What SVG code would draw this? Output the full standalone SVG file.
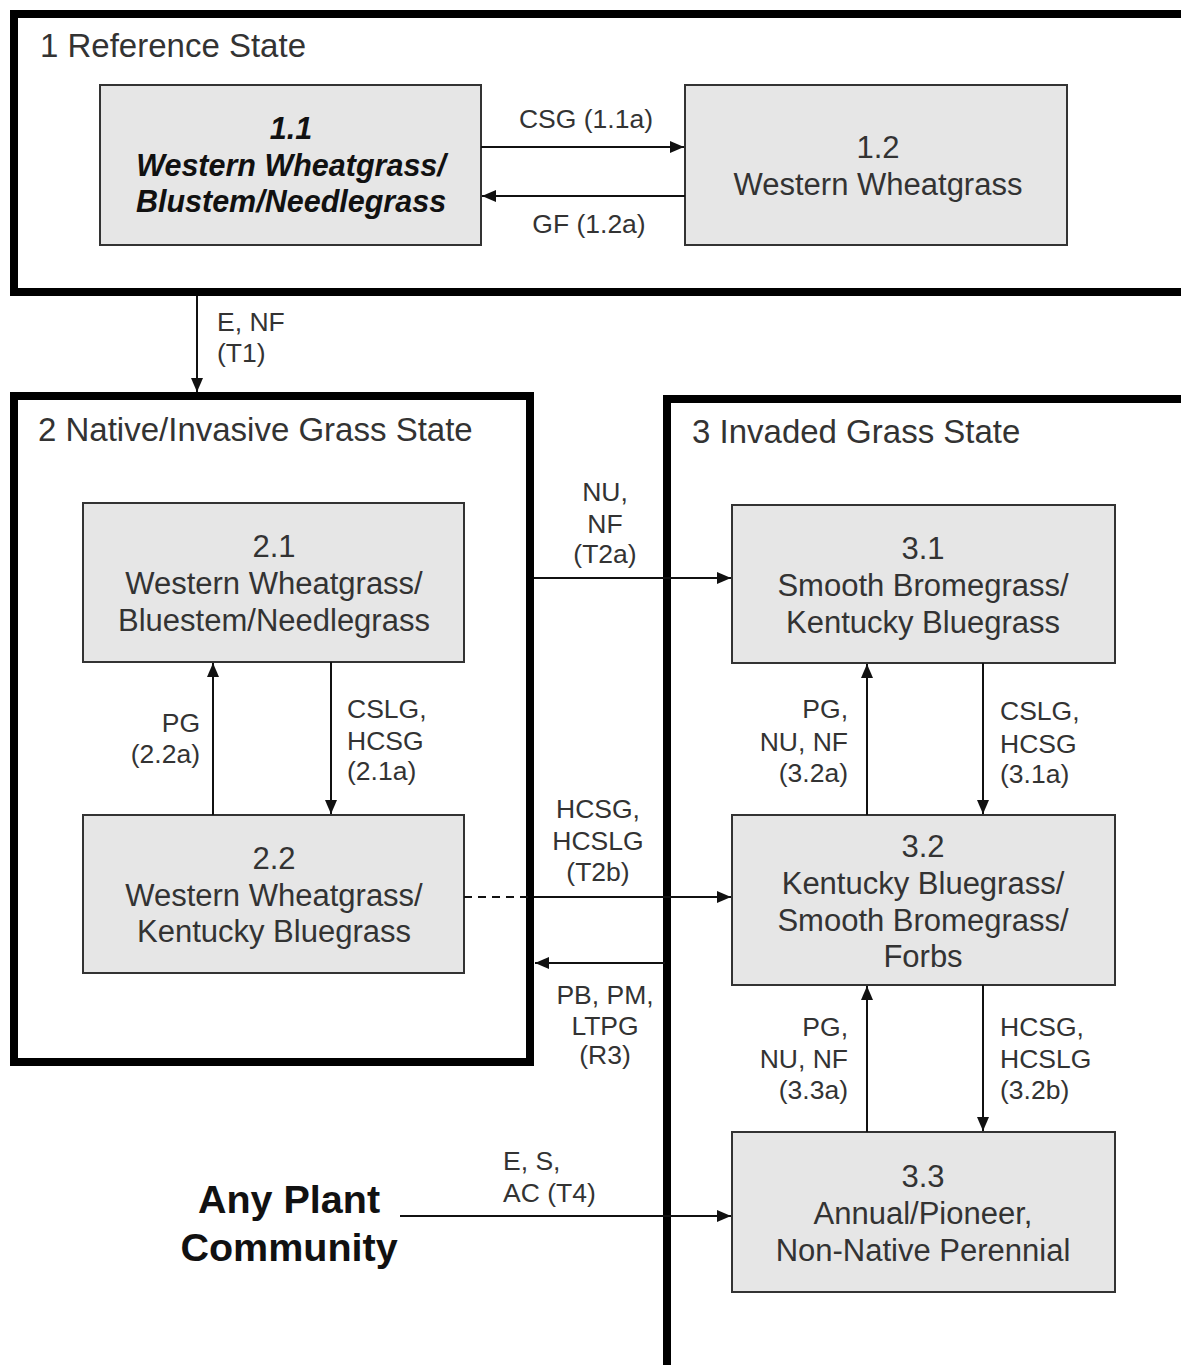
<svg xmlns="http://www.w3.org/2000/svg" width="1181" height="1365" viewBox="0 0 1181 1365">
<style>
.state{fill:none;stroke:#000;stroke-width:8}
.node{fill:#e6e6e6;stroke:#333;stroke-width:2}
.st{font-family:"Liberation Sans",Arial,sans-serif;font-size:33px;fill:#333}
.nt{font-family:"Liberation Sans",Arial,sans-serif;font-size:31px;fill:#333;text-anchor:middle}
.nb{font-family:"Liberation Sans",Arial,sans-serif;font-size:30.5px;fill:#111;text-anchor:middle;font-weight:bold;font-style:italic}
.lb{font-family:"Liberation Sans",Arial,sans-serif;font-size:26.5px;fill:#333}
.big{font-family:"Liberation Sans",Arial,sans-serif;font-size:39.5px;fill:#111;font-weight:bold;text-anchor:middle}
.c{fill:none;stroke:#111;stroke-width:2}
</style>
<defs>
<marker id="ah" markerWidth="14" markerHeight="12" refX="14" refY="6" orient="auto" markerUnits="userSpaceOnUse">
<path d="M0,0 L14,6 L0,12 Z" fill="#111"/>
</marker>
</defs>
<rect width="1181" height="1365" fill="#fff"/>

<g id="state1">
<rect class="state" x="14" y="14" width="1175" height="278"/>
<text class="st" x="40" y="57">1 Reference State</text>
</g>
<g id="state2">
<rect class="state" x="14" y="396" width="516" height="666"/>
<text class="st" x="38" y="441">2 Native/Invasive Grass State</text>
</g>
<g id="state3">
<rect class="state" x="667" y="399" width="530" height="980"/>
<text class="st" x="692" y="443">3 Invaded Grass State</text>
</g>

<g id="node1_1">
<rect class="node" x="100" y="85" width="381" height="160"/>
<text class="nb" x="291" y="139">1.1</text>
<text class="nb" x="291" y="176">Western Wheatgrass/</text>
<text class="nb" x="291" y="212">Blustem/Needlegrass</text>
</g>
<g id="node1_2">
<rect class="node" x="685" y="85" width="382" height="160"/>
<text class="nt" x="878" y="158">1.2</text>
<text class="nt" x="878" y="195">Western Wheatgrass</text>
</g>
<g id="node2_1">
<rect class="node" x="83" y="503" width="381" height="159"/>
<text class="nt" x="274" y="557">2.1</text>
<text class="nt" x="274" y="594">Western Wheatgrass/</text>
<text class="nt" x="274" y="631">Bluestem/Needlegrass</text>
</g>
<g id="node2_2">
<rect class="node" x="83" y="815" width="381" height="158"/>
<text class="nt" x="274" y="869">2.2</text>
<text class="nt" x="274" y="906">Western Wheatgrass/</text>
<text class="nt" x="274" y="942">Kentucky Bluegrass</text>
</g>
<g id="node3_1">
<rect class="node" x="732" y="505" width="383" height="158"/>
<text class="nt" x="923" y="559">3.1</text>
<text class="nt" x="923" y="596">Smooth Bromegrass/</text>
<text class="nt" x="923" y="633">Kentucky Bluegrass</text>
</g>
<g id="node3_2">
<rect class="node" x="732" y="815" width="383" height="170"/>
<text class="nt" x="923" y="857">3.2</text>
<text class="nt" x="923" y="894">Kentucky Bluegrass/</text>
<text class="nt" x="923" y="931">Smooth Bromegrass/</text>
<text class="nt" x="923" y="967">Forbs</text>
</g>
<g id="node3_3">
<rect class="node" x="732" y="1132" width="383" height="160"/>
<text class="nt" x="923" y="1187">3.3</text>
<text class="nt" x="923" y="1224">Annual/Pioneer,</text>
<text class="nt" x="923" y="1261">Non-Native Perennial</text>
</g>
<g id="anyplant">
<text class="big" x="289" y="1213">Any Plant</text>
<text class="big" x="289" y="1261">Community</text>
</g>

<g id="connectors">
<line class="c" x1="481" y1="147" x2="684" y2="147" marker-end="url(#ah)"/>
<line class="c" x1="685" y1="196" x2="482" y2="196" marker-end="url(#ah)"/>
<line class="c" x1="197" y1="296" x2="197" y2="392" marker-end="url(#ah)"/>
<line class="c" x1="213" y1="815" x2="213" y2="663" marker-end="url(#ah)"/>
<line class="c" x1="331" y1="662" x2="331" y2="814" marker-end="url(#ah)"/>
<line class="c" x1="534" y1="578" x2="731" y2="578" marker-end="url(#ah)"/>
<line class="c" x1="464" y1="897" x2="534" y2="897" stroke-dasharray="8,6"/>
<line class="c" x1="534" y1="897" x2="731" y2="897" marker-end="url(#ah)"/>
<line class="c" x1="665" y1="963" x2="535" y2="963" marker-end="url(#ah)"/>
<line class="c" x1="867" y1="815" x2="867" y2="664" marker-end="url(#ah)"/>
<line class="c" x1="983" y1="663" x2="983" y2="814" marker-end="url(#ah)"/>
<line class="c" x1="867" y1="1132" x2="867" y2="986" marker-end="url(#ah)"/>
<line class="c" x1="983" y1="985" x2="983" y2="1131" marker-end="url(#ah)"/>
<line class="c" x1="400" y1="1216" x2="731" y2="1216" marker-end="url(#ah)"/>

<text class="lb" x="586" y="128" text-anchor="middle">CSG (1.1a)</text>
<text class="lb" x="589" y="233" text-anchor="middle">GF (1.2a)</text>
<text class="lb" x="217" y="331">E, NF</text>
<text class="lb" x="217" y="362">(T1)</text>
<text class="lb" x="200" y="732" text-anchor="end">PG</text>
<text class="lb" x="200" y="763" text-anchor="end">(2.2a)</text>
<text class="lb" x="347" y="718">CSLG,</text>
<text class="lb" x="347" y="750">HCSG</text>
<text class="lb" x="347" y="780">(2.1a)</text>
<text class="lb" x="605" y="501" text-anchor="middle">NU,</text>
<text class="lb" x="605" y="533" text-anchor="middle">NF</text>
<text class="lb" x="605" y="563" text-anchor="middle">(T2a)</text>
<text class="lb" x="598" y="818" text-anchor="middle">HCSG,</text>
<text class="lb" x="598" y="850" text-anchor="middle">HCSLG</text>
<text class="lb" x="598" y="881" text-anchor="middle">(T2b)</text>
<text class="lb" x="605" y="1004" text-anchor="middle">PB, PM,</text>
<text class="lb" x="605" y="1035" text-anchor="middle">LTPG</text>
<text class="lb" x="605" y="1064" text-anchor="middle">(R3)</text>
<text class="lb" x="848" y="718" text-anchor="end">PG,</text>
<text class="lb" x="848" y="751" text-anchor="end">NU, NF</text>
<text class="lb" x="848" y="782" text-anchor="end">(3.2a)</text>
<text class="lb" x="1000" y="720">CSLG,</text>
<text class="lb" x="1000" y="753">HCSG</text>
<text class="lb" x="1000" y="783">(3.1a)</text>
<text class="lb" x="848" y="1036" text-anchor="end">PG,</text>
<text class="lb" x="848" y="1068" text-anchor="end">NU, NF</text>
<text class="lb" x="848" y="1099" text-anchor="end">(3.3a)</text>
<text class="lb" x="1000" y="1036">HCSG,</text>
<text class="lb" x="1000" y="1068">HCSLG</text>
<text class="lb" x="1000" y="1099">(3.2b)</text>
<text class="lb" x="503" y="1170">E, S,</text>
<text class="lb" x="503" y="1202">AC (T4)</text>
</g>
</svg>
